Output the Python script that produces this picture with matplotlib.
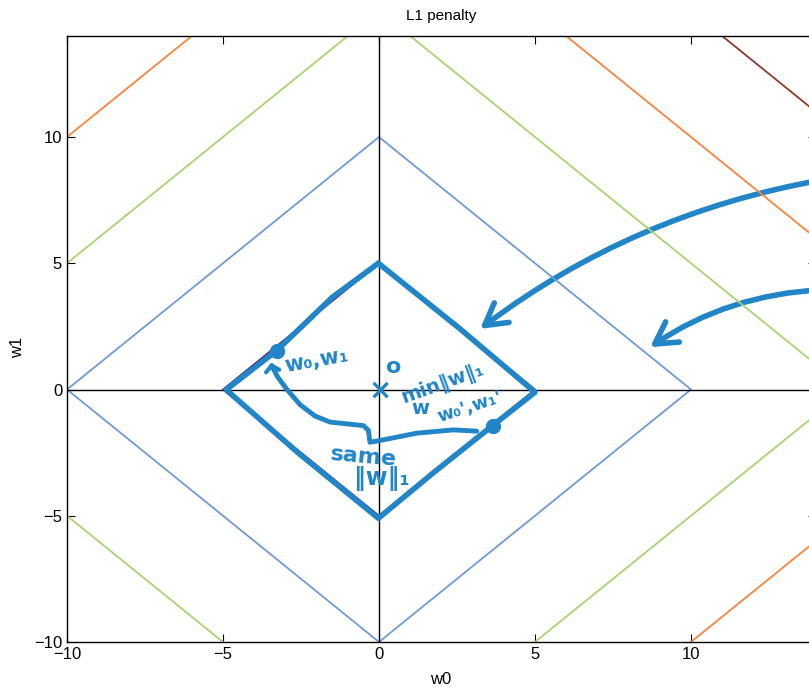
import numpy as np
import matplotlib.pyplot as plt
from matplotlib.patches import FancyArrowPatch

# --- contour levels of |w0| + |w1| ---
levels = [5, 10, 15, 20, 25]
level_colors = ['#4b2d7f', '#6f9ad6', '#a7d470', '#f5843d', '#8c3b2b']

# --- hand-drawn annotations (data coords) ---
ink = '#2185c8'
diamond_w0 = [-0.02, -1.50, -3.28, -4.90, -2.60, -0.02, 1.74, 3.64, 5.00, 2.60, -0.02]
diamond_w1 = [5.00, 3.65, 1.54, -0.01, -2.50, -5.10, -3.30, -1.43, -0.11, 2.40, 5.00]
dots_w0 = [-3.28, 3.64]
dots_w1 = [1.54, -1.43]
link_w0 = [-3.44, -3.25, -2.95, -2.53, -2.05, -1.57, -0.50, -0.34, -0.29, 0.03, 1.21, 2.38, 3.13]
link_w1 = [0.95, 0.50, 0.00, -0.60, -1.05, -1.29, -1.43, -1.62, -2.09, -2.02, -1.73, -1.60, -1.65]
link_head_w0 = [-3.62, -3.44, -3.20]
link_head_w1 = [0.68, 0.95, 0.78]
# big arrows: (start, end, bend)
arrow_start = [(14.2, 8.3), (14.2, 3.95)]
arrow_end = [(3.24, 2.40), (8.69, 1.68)]
arrow_bend = [0.12, 0.14]

plt.rcParams['font.family'] = ['Liberation Sans', 'DejaVu Sans']

fig = plt.figure(figsize=(8.09, 6.89), dpi=100)
ax = fig.add_axes([67 / 809, 47 / 689, 748.8 / 809, 606 / 689])

g = np.linspace(-16, 16, 641)
W0, W1 = np.meshgrid(g, g)
ax.contour(W0, W1, np.abs(W0) + np.abs(W1), levels=levels, colors=level_colors, linewidths=1.3)

ax.axhline(0, color='black', linewidth=1)
ax.axvline(0, color='black', linewidth=1)

# hand annotations
lw = 4
ax.plot(diamond_w0, diamond_w1, color=ink, linewidth=lw, solid_capstyle='round', solid_joinstyle='round')
ax.plot(dots_w0, dots_w1, 'o', color=ink, markersize=10)
ax.plot(link_w0, link_w1, color=ink, linewidth=3.5, solid_capstyle='round', solid_joinstyle='round')
ax.plot(link_head_w0, link_head_w1, color=ink, linewidth=3, solid_capstyle='round', solid_joinstyle='round')
for (x0, y0), (x1, y1), rad in zip(arrow_start, arrow_end, arrow_bend):
    arr = FancyArrowPatch((x0, y0), (x1, y1), connectionstyle=f'arc3,rad={rad}',
                          arrowstyle='->,head_length=0.7,head_width=0.4', mutation_scale=22,
                          color=ink, linewidth=lw, capstyle='round', joinstyle='round',
                          shrinkA=0, shrinkB=0, clip_on=False)
    ax.add_patch(arr)

hand = dict(color=ink, fontweight='bold', ha='center', va='center', family=['DejaVu Sans'])
ax.text(-2.0, 1.15, 'w₀,w₁', fontsize=15, rotation=10, **hand)
ax.text(0.03, -0.05, '×', fontsize=20, **hand)
ax.text(0.46, 0.91, 'o', fontsize=16, **hand)
ax.text(2.06, 0.22, 'min‖w‖₁', fontsize=14, rotation=20, **hand)
ax.text(1.31, -0.77, 'w', fontsize=14, **hand)
ax.text(2.92, -0.70, "w₀',w₁'", fontsize=13, rotation=18, **hand)
ax.text(-0.5, -2.68, 'same', fontsize=16, rotation=-5, **hand)
ax.text(0.09, -3.54, '‖w‖₁', fontsize=17, **hand)

ax.set_xlim(-10, 14)
ax.set_ylim(-10, 14)
ax.set_xticks([-10, -5, 0, 5, 10])
ax.set_yticks([-10, -5, 0, 5, 10])
ax.tick_params(direction='in', top=True, right=True, length=6, labelsize=12)
for s in ax.spines.values():
    s.set_linewidth(1)

fig.text(441 / 809, 1 - 16 / 689, 'L1 penalty', ha='center', va='center', fontsize=11)
fig.text(441 / 809, 1 - 679 / 689, 'w0', ha='center', va='center', fontsize=12)
fig.text(18 / 809, 1 - 347 / 689, 'w1', ha='center', va='center', fontsize=12, rotation=90)

fig.savefig('out.png', dpi=100)
